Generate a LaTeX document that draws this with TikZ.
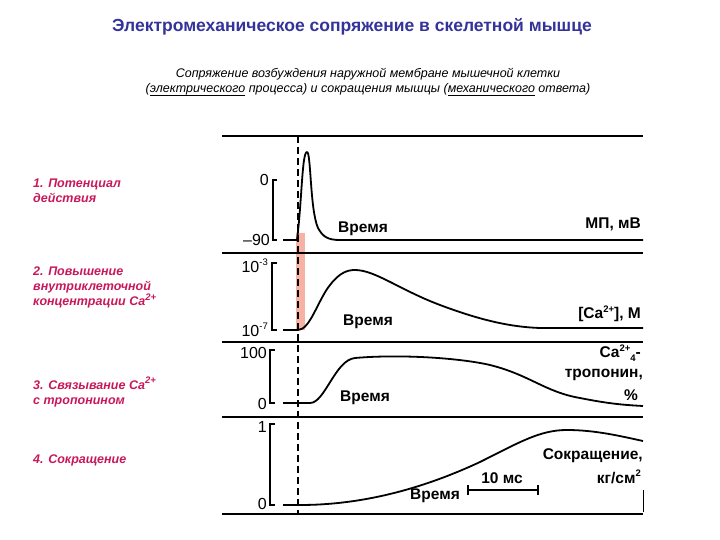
\documentclass[tikz,border=0pt]{standalone}
\usepackage{fontspec}
\setmainfont{Liberation Sans}
\definecolor{ttl}{HTML}{33339A}
\definecolor{lbl}{HTML}{C8185A}
\definecolor{band}{HTML}{F4A08C}
\newcommand{\sups}[1]{\raisebox{0.8ex}{\fontsize{9.5}{10}\selectfont #1}}
\newcommand{\subs}[1]{\raisebox{-0.4ex}{\fontsize{9.5}{10}\selectfont #1}}
\newsavebox\myulbox
\newcommand{\myul}[1]{\sbox\myulbox{#1}\rlap{\rule[-2.5pt]{\wd\myulbox}{0.7pt}}\usebox\myulbox}
\begin{document}
\begin{tikzpicture}[x=1pt,y=-1pt,
  ax/.style={line width=1.6pt},
  tr/.style={line width=1.8pt,line join=round},
  br/.style={line width=1.4pt},
  tx/.style={font=\fontsize{15.5}{17}\selectfont\bfseries,inner sep=0pt},
  sc/.style={font=\fontsize{16}{17}\selectfont,inner sep=0pt},
  lab/.style={font=\fontsize{12.5}{15}\selectfont\bfseries\itshape,text=lbl,align=left,anchor=north west,inner sep=0pt}]
\useasboundingbox (0,0) rectangle (720,540);
% title
\node (title) at (352,27) {\fontsize{17.5}{19}\selectfont\bfseries\color{ttl}Электромеханическое сопряжение в скелетной мышце};
\node[align=center,font=\fontsize{12.5}{15}\selectfont\itshape] (sub) at (368,82) {Сопряжение возбуждения наружной мембране мышечной клетки\\(\myul{электрического} процесса) и сокращения мышцы (\myul{механического} ответа)};
% left labels
\node[lab] (l1) at (33,179) {1. Потенциал\\действия};
\node[lab] (l2) at (33,267) {2. Повышение\\внутриклеточной\\концентрации Ca\sups{2+}};
\node[lab] (l3) at (33,377) {3. Связывание Ca\sups{2+}\\с тропонином};
\node[lab] (l4) at (33,455) {4. Сокращение};
% band
\fill[band,opacity=0.8] (296,233) rectangle (305,330);
% separators
\draw[ax] (222,136) -- (643,136);
\draw[ax] (222,253) -- (643,253);
\draw[ax] (222,342) -- (643,342);
\draw[ax] (222,417) -- (643,417);
\draw[ax] (222,514) -- (643,514);
\draw[line width=1pt] (643,490) -- (643,512);
% dashed line
\draw[line width=1.6pt,dash pattern=on 7pt off 4pt] (298,136) -- (298,514);
% trace 1
\draw[tr] (283,240) -- (297,240) .. controls (302,200) and (302,152) .. (307,152) .. controls (311,152) and (310,210) .. (318,228) .. controls (323,237) and (328,240) .. (340,240) -- (643,240);
% trace 2
\draw[tr] (283,330) -- (298,330) .. controls (310,330) and (318,300) .. (330,285) .. controls (340,272) and (348,270) .. (355,270) .. controls (375,270) and (400,290) .. (440,305) .. controls (480,320) and (510,327) .. (540,328) -- (643,328);
% trace 3
\draw[tr] (283,403) -- (310,403) .. controls (325,403) and (335,360) .. (355,358) .. controls (400,354) and (460,358) .. (490,365) .. controls (530,375) and (545,392) .. (580,398) .. controls (610,404) and (625,405) .. (643,406);
% trace 4
\draw[tr] (283,505) -- (300,505) .. controls (360,505) and (420,490) .. (480,462) .. controls (520,442) and (540,430) .. (567,430) .. controls (595,430) and (620,436) .. (643,441);
% brackets
\draw[br] (277,180) -- (273,180) -- (273,240) -- (277,240);
\draw[br] (277,263) -- (272,263) -- (272,330) -- (277,330);
\draw[br] (275,350) -- (270,350) -- (270,403) -- (275,403);
\draw[br] (275,424) -- (270,424) -- (270,505) -- (275,505);
\node[sc,anchor=east] (v0) at (269,180) {0};
\node[sc,anchor=east] (v90) at (270,240) {–90};
\node[sc,anchor=east] (v3) at (268,266) {10\sups{-3}};
\node[sc,anchor=east] (v7) at (268,330) {10\sups{-7}};
\node[sc,anchor=east] (v100) at (267,353) {100};
\node[sc,anchor=east] (v00) at (267,404) {0};
\node[sc,anchor=east] (v1) at (267,427) {1};
\node[sc,anchor=east] (v01) at (267,504) {0};
% time labels
\node[tx] (t1) at (363,229) {Время};
\node[tx] (t2) at (368,322) {Время};
\node[tx] (t3) at (365,398) {Время};
\node[tx] (t4) at (435,496) {Время};
% scale bar
\draw[line width=1.2pt] (468,490) -- (538,490);
\draw[line width=1.2pt] (468,485) -- (468,495);
\draw[line width=1.2pt] (538,485) -- (538,495);
\node[tx] (ms) at (502,478) {10 мс};
% axis labels
\node[tx,anchor=east] (mp) at (641,224) {МП, мВ};
\node[tx,anchor=east] (ca) at (641,314) {[Ca\sups{2+}], М};
\node[tx,anchor=east] (tp1) at (641,353) {Ca\sups{2+}\subs{4}-};
\node[tx,anchor=east] (tp2) at (643,375) {тропонин,};
\node[tx,anchor=east] (tp3) at (638,395) {\%};
\node[tx,anchor=east] (sk1) at (643,456) {Сокращение,};
\node[tx,anchor=east] (sk2) at (641,477) {кг/см\sups{2}};
\end{tikzpicture}
\end{document}
